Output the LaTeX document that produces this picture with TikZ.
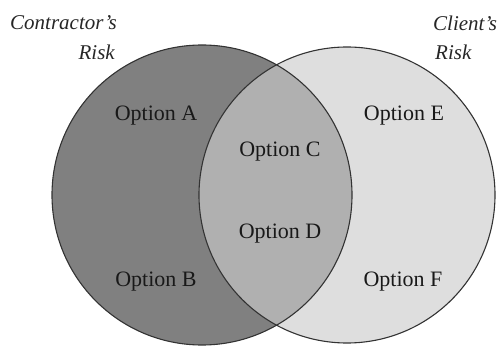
\documentclass[tikz,border=0pt]{standalone}
\usepackage{fontspec}
\setmainfont{Liberation Serif}
\definecolor{contractorgray}{gray}{0.50}
\definecolor{sharedgray}{gray}{0.69}
\definecolor{clientgray}{gray}{0.87}
\tikzset{
  option/.style={font=\fontsize{22}{26}\selectfont, text=black!90},
  risk/.style={font=\fontsize{21}{25}\selectfont\itshape, text=black!85, inner sep=0pt},
  ring/.style={draw=black!80, line width=1.1pt}
}

\begin{document}
\begin{tikzpicture}[x=1pt,y=-1pt]
  \useasboundingbox (0,0) rectangle (498,347);
  \coordinate (contractor) at (202,195);
  \coordinate (client) at (347,195);

  % the two risk areas and their overlap
  \fill[contractorgray] (contractor) circle[radius=150pt];
  \fill[clientgray] (client) circle[radius=148pt];
  \begin{scope}
    \clip (contractor) circle[radius=150pt];
    \fill[sharedgray] (client) circle[radius=148pt];
  \end{scope}
  \draw[ring] (contractor) circle[radius=150pt];
  \draw[ring] (client) circle[radius=148pt];

  \node[option] (opta) at (156,116) {Option A};
  \node[option] (optb) at (156,282) {Option B};
  \node[option] (optc) at (280,152) {Option C};
  \node[option] (optd) at (280,234) {Option D};
  \node[option] (opte) at (404,116) {Option E};
  \node[option] (optf) at (403,282) {Option F};

  \node[risk, anchor=east] (contractorname) at (117,23) {Contractor's};
  \node[risk, anchor=east] (contractorrisk) at (115,52) {Risk};
  \node[risk, anchor=west] (clientname) at (433,23) {Client's};
  \node[risk, anchor=west] (clientrisk) at (435,52) {Risk};
\end{tikzpicture}
\end{document}
